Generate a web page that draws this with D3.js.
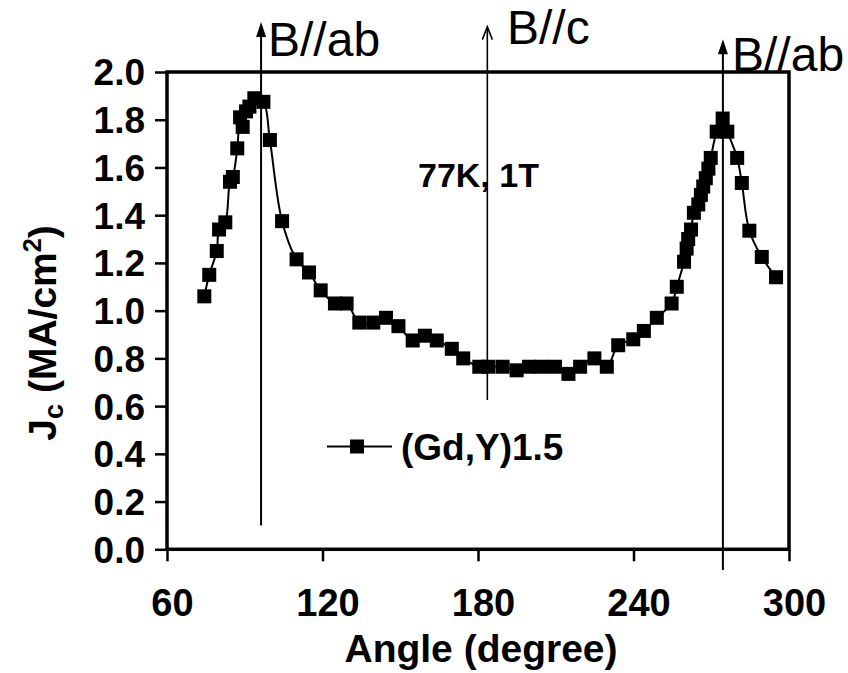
<!DOCTYPE html>
<html><head><meta charset="utf-8">
<script src="https://cdn.jsdelivr.net/npm/d3@7"></script>
<style>body{margin:0;background:#fff}</style>
</head><body><svg id="c" width="848" height="673"></svg>
<script>
const angles = [74.4,76.3,79.2,80.1,82.5,84.3,85.4,87.1,88.2,89.2,90.5,91.8,93.7,97.2,99.7,104.4,110.0,114.8,119.3,124.8,129.3,134.2,139.6,144.5,149.3,154.8,159.5,164.1,169.9,174.3,180.5,184.0,189.5,194.9,199.7,204.6,209.7,214.9,219.4,224.9,229.7,234.1,239.9,244.0,249.0,254.7,256.7,259.5,260.5,261.1,262.2,263.3,265.0,266.0,266.9,267.9,268.9,269.8,272.1,274.4,276.2,280.0,281.8,284.7,289.5,295.0];
const jc = [1.06,1.15,1.25,1.34,1.37,1.54,1.56,1.68,1.81,1.77,1.835,1.855,1.89,1.875,1.715,1.375,1.215,1.16,1.085,1.03,1.03,0.95,0.95,0.97,0.935,0.875,0.895,0.875,0.84,0.80,0.765,0.765,0.765,0.75,0.765,0.765,0.765,0.735,0.765,0.80,0.765,0.855,0.88,0.915,0.97,1.03,1.10,1.205,1.26,1.30,1.34,1.41,1.445,1.485,1.52,1.555,1.595,1.64,1.75,1.805,1.75,1.64,1.535,1.335,1.225,1.14];
const xTicks = [60,120,180,240,300];
const yTicks = [0,0.2,0.4,0.6,0.8,1.0,1.2,1.4,1.6,1.8,2.0];
const seriesName = "(Gd,Y)1.5";
const conditionLabel = "77K, 1T";
const arrowAngles = [96.3,183.6,274.5];
const arrowLabels = ["B//ab","B//c","B//ab"];
const xTitle = "Angle (degree)";

const svg = d3.select("#c");
const L=167, R=789, T=72, B=549.3;
const x = d3.scaleLinear().domain([60,300]).range([L,R]);
const y = d3.scaleLinear().domain([0,2]).range([B,T]);
const FONT = "'Liberation Sans', Arial, sans-serif";

// axes
const xAxis = d3.axisBottom(x).tickValues(xTicks).tickSize(12).tickFormat(d3.format("d"));
const gx = svg.append("g").attr("transform",`translate(0,${B})`).call(xAxis);
gx.select(".domain").remove();
gx.selectAll(".tick line").attr("stroke","#000").attr("stroke-width",2.5);
gx.selectAll(".tick text").attr("font-family",FONT).attr("font-weight","bold").attr("font-size",38).attr("fill","#000").attr("dy",0).attr("y",67).attr("x",5);

const yAxis = d3.axisLeft(y).tickValues(yTicks).tickSize(12).tickFormat(d3.format(".1f"));
const gy = svg.append("g").attr("transform",`translate(${L},0)`).call(yAxis);
gy.select(".domain").remove();
gy.selectAll(".tick line").attr("stroke","#000").attr("stroke-width",2.5);
gy.selectAll(".tick text").attr("font-family",FONT).attr("font-weight","bold").attr("font-size",37).attr("fill","#000").attr("x",-22).attr("dy","0.35em");

// frame
svg.append("rect").attr("x",L).attr("y",T).attr("width",R-L).attr("height",B-T)
  .attr("fill","none").attr("stroke","#000").attr("stroke-width",3.5);

// arrows
const arrowTop = [2.21,2.19,2.137];
const arrowBottom = [0.10,0.626,-0.087];
arrowAngles.forEach((a,i)=>{
  const xx = x(a);
  svg.append("line").attr("x1",xx).attr("x2",xx).attr("y1",y(arrowBottom[i])).attr("y2",y(arrowTop[i])+(i===1?1:10))
    .attr("stroke","#000").attr("stroke-width",i===1?1.6:2);
  const ty = y(arrowTop[i]);
  if(i===1){
    svg.append("path").attr("d",`M${xx-5},${ty+13} L${xx},${ty} L${xx+5},${ty+13}`).attr("fill","none").attr("stroke","#000").attr("stroke-width",1.6);
  } else {
    svg.append("path").attr("d",`M${xx-5},${ty+15} L${xx},${ty} L${xx+5},${ty+15} Z`).attr("fill","#000");
  }
});
const labelPos = [[268,56],[507,44],[732,71]];
arrowLabels.forEach((t,i)=>{
  svg.append("text").attr("x",labelPos[i][0]).attr("y",labelPos[i][1]).text(t)
    .attr("font-family",FONT).attr("font-size",48).attr("fill","#000");
});

// series line
const pts = angles.map((a,i)=>[a,jc[i]]);
const line = d3.line().x(d=>x(d[0])).y(d=>y(d[1])).curve(d3.curveCatmullRom.alpha(0.5));
svg.append("path").datum(pts).attr("d",line).attr("fill","none").attr("stroke","#000").attr("stroke-width",2);
const ms = 14;
svg.append("g").selectAll("rect").data(pts).join("rect")
  .attr("x",d=>x(d[0])-ms/2).attr("y",d=>y(d[1])-ms/2).attr("width",ms).attr("height",ms).attr("fill","#000");

// legend
svg.append("line").attr("x1",327).attr("x2",392).attr("y1",446.5).attr("y2",446.5).attr("stroke","#000").attr("stroke-width",2);
svg.append("rect").attr("x",357-ms/2).attr("y",446.5-ms/2).attr("width",ms).attr("height",ms).attr("fill","#000");
svg.append("text").attr("x",401).attr("y",460).text(seriesName)
  .attr("font-family",FONT).attr("font-weight","bold").attr("font-size",37).attr("fill","#000");

// condition label
svg.append("text").attr("x",418).attr("y",187).text(conditionLabel)
  .attr("font-family",FONT).attr("font-weight","bold").attr("font-size",34).attr("fill","#000");

// axis titles
svg.append("text").attr("x",(L+R)/2+3).attr("y",662).attr("text-anchor","middle").text(xTitle)
  .attr("font-family",FONT).attr("font-weight","bold").attr("font-size",39).attr("fill","#000");
const yt = svg.append("text").attr("transform","translate(56,333) rotate(-90)").attr("text-anchor","middle")
  .attr("font-family",FONT).attr("font-weight","bold").attr("font-size",39).attr("fill","#000");
yt.append("tspan").text("J");
yt.append("tspan").text("c").attr("font-size",27).attr("dy",7);
yt.append("tspan").text(" (MA/cm").attr("dy",-7);
yt.append("tspan").text("2").attr("font-size",25).attr("dy",-15);
yt.append("tspan").text(")").attr("dy",15);
</script></body></html>
